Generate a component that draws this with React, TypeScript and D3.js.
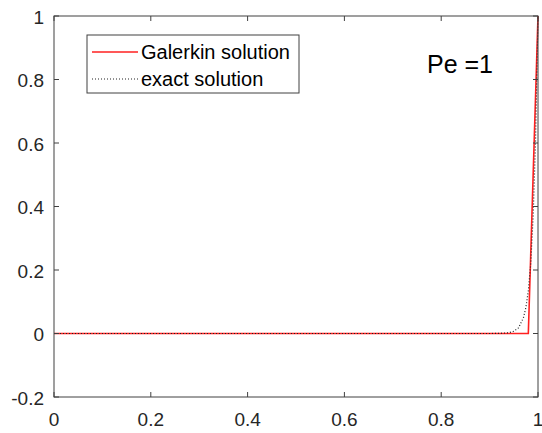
import React from "react";
import * as d3 from "d3";

const galerkinX = [0, 0.98, 1];
const galerkinY = [0, 0, 1];
const exactX = [0, 0.9, 0.92, 0.94, 0.95, 0.96, 0.97, 0.975, 0.98, 0.985, 0.99, 0.995, 1];
const exactY = [0, 0, 0.0003, 0.0025, 0.007, 0.018, 0.05, 0.082, 0.135, 0.22, 0.37, 0.61, 1];
const xTicks = [0, 0.2, 0.4, 0.6, 0.8, 1];
const yTicks = [-0.2, 0, 0.2, 0.4, 0.6, 0.8, 1];
const legendLabels = ["Galerkin solution", "exact solution"];
const annotation = "Pe =1";

export default function App() {
  const W = 542, H = 433;
  const L = 54, R = 538, T = 16, B = 397;
  const x = d3.scaleLinear().domain([0, 1]).range([L, R]);
  const y = d3.scaleLinear().domain([-0.2, 1]).range([B, T]);
  const line = d3.line<[number, number]>().x(d => x(d[0])).y(d => y(d[1]));
  const gPts = galerkinX.map((v, i) => [v, galerkinY[i]] as [number, number]);
  const ePts = exactX.map((v, i) => [v, exactY[i]] as [number, number]);
  const font = "Liberation Sans, Arial, sans-serif";
  const axisColor = "#404040";
  return (
    <svg width={W} height={H} style={{ position: "absolute", left: 0, top: 0, background: "#fff" }}>
      <rect x={0} y={0} width={W} height={H} fill="#fff" />
      <path d={line(gPts) || ""} fill="none" stroke="#ff2020" strokeWidth={1.6} />
      <path d={line(ePts) || ""} fill="none" stroke="#222" strokeWidth={1.2} strokeDasharray="1,2" />
      <rect x={L} y={T} width={R - L} height={B - T} fill="none" stroke={axisColor} strokeWidth={1} />
      {xTicks.map(t => (
        <g key={"x" + t}>
          <line x1={x(t)} x2={x(t)} y1={B} y2={B - 5} stroke={axisColor} />
          <line x1={x(t)} x2={x(t)} y1={T} y2={T + 5} stroke={axisColor} />
          <text x={x(t)} y={425.5} textAnchor="middle" fontFamily={font} fontSize={19} fill="#262626">{String(t)}</text>
        </g>
      ))}
      {yTicks.map(t => (
        <g key={"y" + t}>
          <line x1={L} x2={L + 5} y1={y(t)} y2={y(t)} stroke={axisColor} />
          <line x1={R} x2={R - 5} y1={y(t)} y2={y(t)} stroke={axisColor} />
          <text x={L - 10} y={y(t) + 7.5} textAnchor="end" fontFamily={font} fontSize={19} fill="#262626">{String(t)}</text>
        </g>
      ))}
      <rect x={87} y={35} width={212} height={58} fill="#fff" stroke={axisColor} strokeWidth={1} />
      <line x1={92} x2={138} y1={52} y2={52} stroke="#ff2020" strokeWidth={1.6} />
      <line x1={92} x2={138} y1={79} y2={79} stroke="#222" strokeWidth={1.2} strokeDasharray="1,2" />
      <text x={141} y={59} fontFamily={font} fontSize={20} fill="#000">{legendLabels[0]}</text>
      <text x={141} y={85.5} fontFamily={font} fontSize={20} fill="#000">{legendLabels[1]}</text>
      <text x={427} y={73} fontFamily={font} fontSize={25} fill="#000">{annotation}</text>
    </svg>
  );
}
